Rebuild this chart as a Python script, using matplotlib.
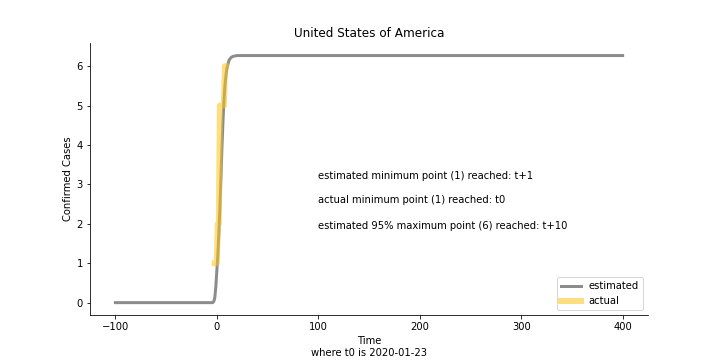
import matplotlib
matplotlib.use("Agg")
import matplotlib.pyplot as plt

# estimated curve (fitted logistic)
est_t = [-100, -4, -3, -2, -1, 0, 1, 2, 3, 4, 5, 6, 7, 8, 9, 10, 12, 14, 16, 20, 400]
est_y = [0.0, 0.0, 0.03, 0.12, 0.4, 0.8, 1.2, 1.75, 2.4, 3.13, 3.89, 4.56,
         5.10, 5.50, 5.77, 5.95, 6.15, 6.22, 6.25, 6.27, 6.27]

# actual confirmed cases
act_t = [-2, -1, 0, 1, 2, 3, 4, 5, 6, 7, 8, 9]
act_y = [1, 1, 1, 2, 2, 5, 5, 5, 5, 5, 6, 6]

notes = ["estimated minimum point (1) reached: t+1",
         "actual minimum point (1) reached: t0",
         "estimated 95% maximum point (6) reached: t+10"]
note_y = [3.14, 2.52, 1.88]

fig, ax = plt.subplots(figsize=(10, 5), dpi=72)
fig.subplots_adjust(bottom=0.125)
ax.plot(est_t, est_y, color="grey", linewidth=3, alpha=0.9, label="estimated")
ax.plot(act_t, act_y, color="#fcc419", linewidth=6, alpha=0.55, label="actual")

for txt, yy in zip(notes, note_y):
    ax.text(100, yy, txt)

ax.set_title("United States of America")
ax.set_xlabel("Time\nwhere t0 is 2020-01-23")
ax.set_ylabel("Confirmed Cases")
ax.spines["top"].set_visible(False)
ax.spines["right"].set_visible(False)
ax.legend(loc="lower right")

fig.savefig("out.png")
